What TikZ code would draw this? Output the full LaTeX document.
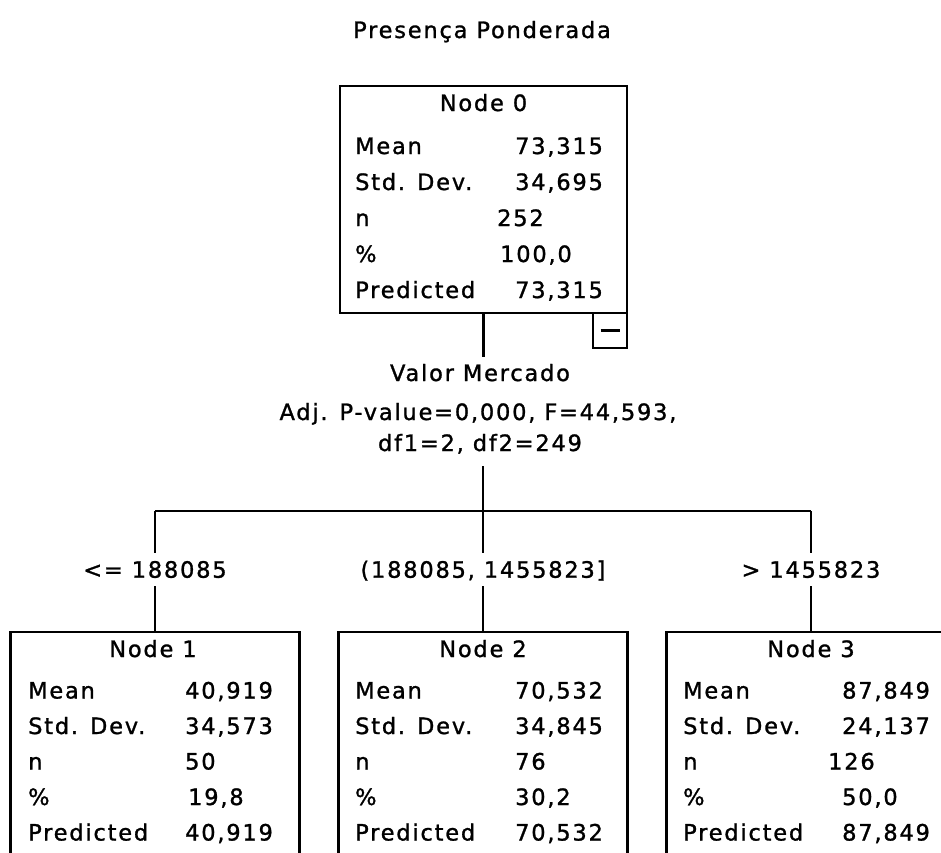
\documentclass[tikz,border=0pt]{standalone}
\usepackage{fontspec}
\setmainfont{DejaVu Sans}[LetterSpace=8,FakeBold=1.2]
\begin{document}
\begin{tikzpicture}[x=1pt,y=-1pt,
  ln/.style={line width=2.2pt},
  box/.style={draw, line width=2.2pt, inner sep=0pt, minimum width=289pt},
  txt/.style={inner sep=0pt, font=\fontsize{22.5}{27}\selectfont},
  lab/.style={txt, anchor=base west},
  hd/.style={txt, anchor=base},
  cut/.style={txt, text height=16.4pt, text depth=0pt, minimum height=33pt}]
\useasboundingbox (0,0) rectangle (941,852);
\fill[white] (0,0) rectangle (941,852);
\clip (0,0) rectangle (941,852);

% title
\node[hd] (title) at (482,38) {Presença Ponderada};

% Node 0
\node[box, minimum width=287pt, minimum height=227pt] (n0) at (483.5,199.5) {};
\node[hd] (h0) at (483.5,111) {Node 0};
\node[lab] (m0)  at (355,154) {Mean};        \node[lab] (mv0) at (515,154) {73,315};
\node[lab] (s0)  at (355,190) {Std. Dev.};   \node[lab] (sv0) at (515,190) {34,695};
\node[lab] (k0)  at (355,226) {n};           \node[lab] (kv0) at (497,226) {252};
\node[lab] (p0)  at (355,262) {\%};          \node[lab] (pv0) at (500,262) {100,0};
\node[lab] (r0)  at (355,298) {Predicted};   \node[lab] (rv0) at (515,298) {73,315};
\node[box, minimum width=34pt, minimum height=35pt] (mb) at (610,330.5) {};
\draw[ln] ([xshift=-9.5pt]mb.center) -- ([xshift=9.5pt]mb.center);

% split description
\node[hd] (v1) at (480,381) {Valor Mercado};
\node[hd] (v2) at (478,420) {Adj. P-value=0,000, F=44,593,};
\node[hd] (v3) at (480,451) {df1=2, df2=249};

\coordinate (c0) at (483.5,357);
\coordinate (c1) at (483,466);
\coordinate (jn) at (483,511);
\coordinate (jl) at (155,511);
\coordinate (jr) at (811,511);
\draw[ln] (n0.south) -- (c0);
\draw[ln] (c1) -- (jn);
\draw[ln] (jl) -- (jr);

% branch labels
\node[cut] (l1) at (155,569.5) {<= 188085};
\node[cut] (l2) at (483,569.5) {(188085, 1455823]};
\node[cut] (l3) at (811,569.5) {> 1455823};
\draw[ln] (jl) -- (l1.north);
\draw[ln] (jn) -- (l2.north);
\draw[ln] (jr) -- (l3.north);

% child boxes
\node[box, minimum height=240pt, anchor=north] (b1) at (155,631) {};
\node[box, minimum height=240pt, anchor=north] (b2) at (483,631) {};
\node[box, minimum height=240pt, anchor=north] (b3) at (811,631) {};
\draw[ln] (l1.south) -- (b1.north);
\draw[ln] (l2.south) -- (b2.north);
\draw[ln] (l3.south) -- (b3.north);

% Node 1
\node[hd] (h1) at (153,657) {Node 1};
\node[lab] (m1) at (28,698.5) {Mean};       \node[lab] (mv1) at (185,698.5) {40,919};
\node[lab] (s1) at (28,734) {Std. Dev.};    \node[lab] (sv1) at (185,734) {34,573};
\node[lab] (k1) at (28,769.5) {n};          \node[lab] (kv1) at (185,769.5) {50};
\node[lab] (p1) at (28,805) {\%};           \node[lab] (pv1) at (188,805) {19,8};
\node[lab] (r1) at (28,840.5) {Predicted};  \node[lab] (rv1) at (185,840.5) {40,919};

% Node 2
\node[hd] (h2) at (483,657) {Node 2};
\node[lab] (m2) at (355,698.5) {Mean};      \node[lab] (mv2) at (515,698.5) {70,532};
\node[lab] (s2) at (355,734) {Std. Dev.};   \node[lab] (sv2) at (515,734) {34,845};
\node[lab] (k2) at (355,769.5) {n};         \node[lab] (kv2) at (515,769.5) {76};
\node[lab] (p2) at (355,805) {\%};          \node[lab] (pv2) at (515,805) {30,2};
\node[lab] (r2) at (355,840.5) {Predicted}; \node[lab] (rv2) at (515,840.5) {70,532};

% Node 3
\node[hd] (h3) at (811,657) {Node 3};
\node[lab] (m3) at (683,698.5) {Mean};      \node[lab] (mv3) at (842,698.5) {87,849};
\node[lab] (s3) at (683,734) {Std. Dev.};   \node[lab] (sv3) at (842,734) {24,137};
\node[lab] (k3) at (683,769.5) {n};         \node[lab] (kv3) at (828,769.5) {126};
\node[lab] (p3) at (683,805) {\%};          \node[lab] (pv3) at (842,805) {50,0};
\node[lab] (r3) at (683,840.5) {Predicted}; \node[lab] (rv3) at (842,840.5) {87,849};
\end{tikzpicture}
\end{document}
